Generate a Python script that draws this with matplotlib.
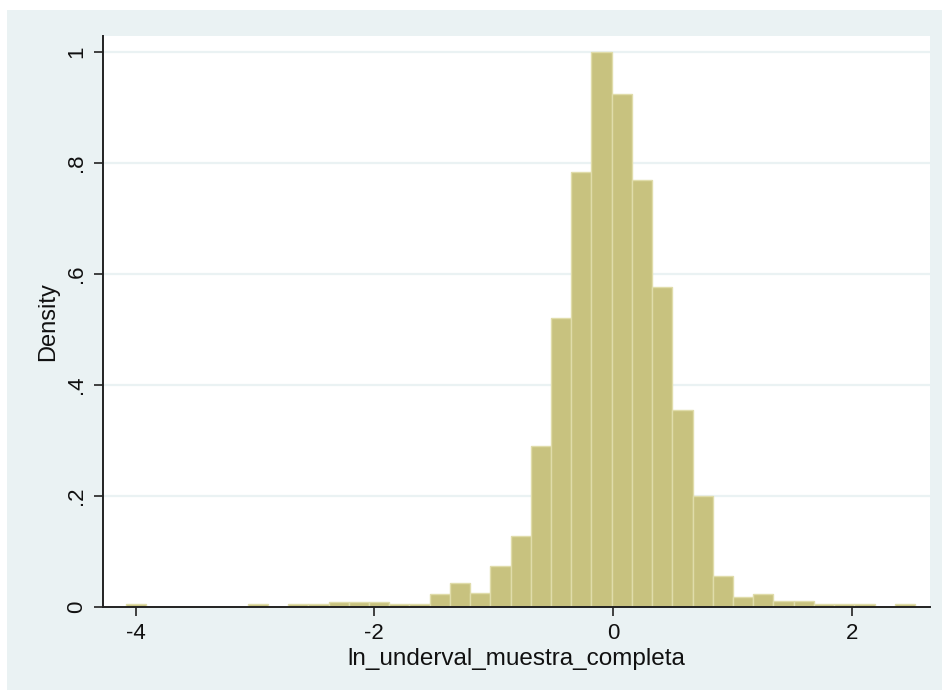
import numpy as np
import matplotlib.pyplot as plt
from matplotlib.patches import Rectangle

# histogram of ln_underval_muestra_completa (density scale, 39 bins)
bin_lo = -4.078
bin_hi = 2.529
density = [
    0.005, 0.0, 0.0, 0.0, 0.0, 0.0, 0.004, 0.0, 0.005, 0.005,
    0.008, 0.008, 0.008, 0.004, 0.004, 0.023, 0.043, 0.025, 0.073, 0.127,
    0.290, 0.521, 0.784, 1.000, 0.924, 0.769, 0.577, 0.355, 0.200, 0.056,
    0.017, 0.022, 0.010, 0.010, 0.005, 0.005, 0.005, 0.0, 0.004,
]
xticks = [-4, -2, 0, 2]
yticks = [0, 0.2, 0.4, 0.6, 0.8, 1.0]
ytick_labels = ['0', '.2', '.4', '.6', '.8', '1']

edges = np.linspace(bin_lo, bin_hi, len(density) + 1)
widths = np.diff(edges)

plt.rcParams['font.family'] = ['Liberation Sans', 'DejaVu Sans']

bg = '#EAF2F3'
fig = plt.figure(figsize=(9.42, 6.90), dpi=100)
fig.patch.set_facecolor('white')
# graph region (light blue), white strip on top and left
fig.add_artist(Rectangle((7 / 942, 0), 1, 1 - 10 / 690, transform=fig.transFigure,
                         facecolor=bg, edgecolor='none', zorder=0))

ax = fig.add_axes([103 / 942, 1 - 606.7 / 690, (930 - 103) / 942, (606.7 - 36) / 690])
ax.set_facecolor('white')

ax.bar(edges[:-1], density, width=widths, align='edge',
       color='#C8C27F', edgecolor='#E0DCAA', linewidth=1.0, zorder=3)

ax.set_xlim(-4.273, 2.655)
ax.set_ylim(0, 1.029)

for y in yticks[1:]:
    ax.axhline(y, color=bg, lw=1.6, zorder=1)

ax.set_xticks(xticks)
ax.set_xticklabels([str(t) for t in xticks])
ax.set_yticks(yticks)
ax.set_yticklabels(ytick_labels, rotation=90, va='center')

for side in ['top', 'right']:
    ax.spines[side].set_visible(False)
for side in ['left', 'bottom']:
    ax.spines[side].set_color('#222222')
    ax.spines[side].set_linewidth(1.4)
    ax.spines[side].set_zorder(4)

ax.tick_params(axis='both', length=6.5, width=1.2, color='#222222',
               labelsize=16, labelcolor='#111111', pad=5)

ax.set_xlabel('ln_underval_muestra_completa', fontsize=17.5, color='#111111', labelpad=3)
ax.set_ylabel('Density', fontsize=17, color='#111111', labelpad=5)

fig.savefig('out.png', dpi=100, facecolor=fig.get_facecolor())
